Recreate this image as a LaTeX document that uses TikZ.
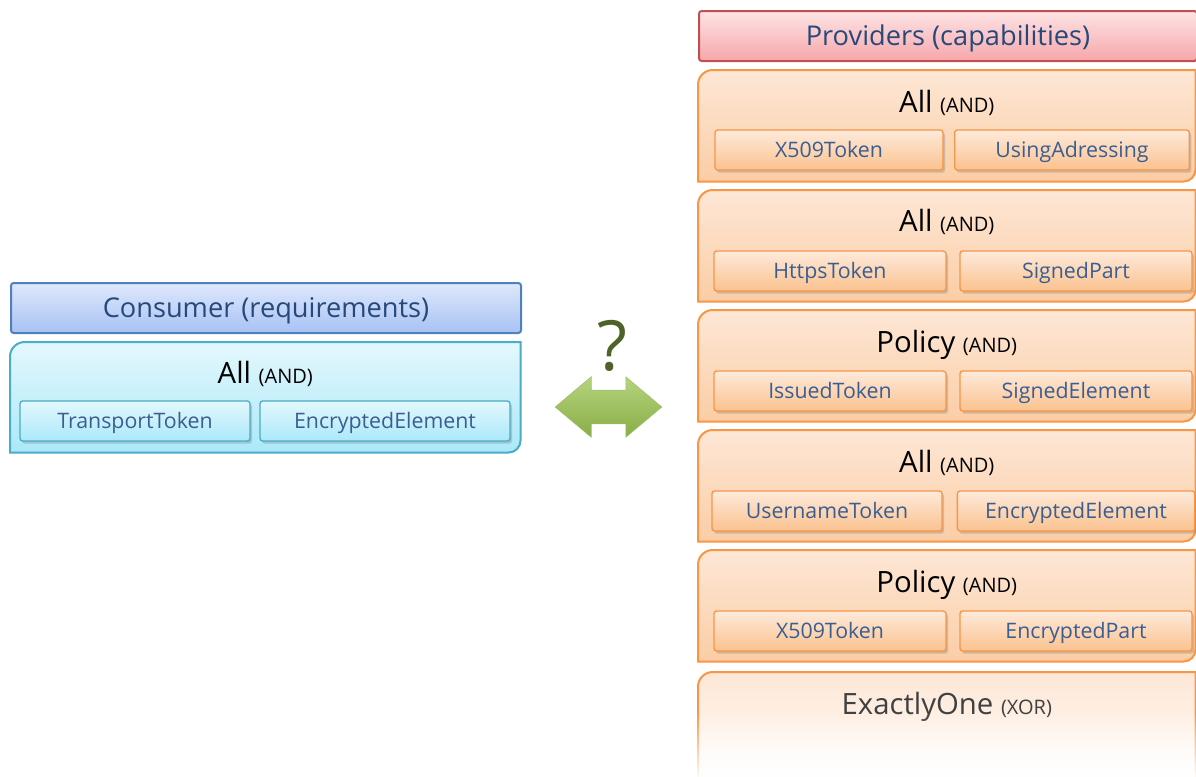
\documentclass[tikz,border=0pt]{standalone}
\usepackage{fontspec}
\setmainfont{Open Sans}
\usetikzlibrary{shadows,shapes.arrows,fadings}
\pgfdeclarelayer{background}
\pgfsetlayers{background,main}

\definecolor{headText}{HTML}{27497A}
\definecolor{partText}{HTML}{3B5E91}
\definecolor{consumerLine}{HTML}{4F81BD}
\definecolor{consumerTop}{HTML}{DFE8FC}
\definecolor{consumerBottom}{HTML}{A7C2F4}
\definecolor{aquaLine}{HTML}{4BACC6}
\definecolor{aquaTop}{HTML}{E4F8FD}
\definecolor{aquaBottom}{HTML}{ABE8F9}
\definecolor{providerLine}{HTML}{C0504D}
\definecolor{providerTop}{HTML}{FDE4E5}
\definecolor{providerBottom}{HTML}{F6A6AA}
\definecolor{orangeLine}{HTML}{F79646}
\definecolor{orangeTop}{HTML}{FDE7D6}
\definecolor{orangeBottom}{HTML}{FBCDA5}
\definecolor{partTop}{HTML}{FDEADB}
\definecolor{partBottom}{HTML}{FBC28F}
\definecolor{arrowTop}{HTML}{B7D47F}
\definecolor{arrowBottom}{HTML}{88AD45}
\definecolor{askColor}{HTML}{4F6228}

\newcommand{\opTag}[1]{{\fontsize{15}{17}\selectfont (#1)}}
\newcommand{\roundframe}[2]{%
  \path[#2] ([yshift=-11pt]#1.north west) arc[start angle=180, end angle=90, radius=11pt]
    -- (#1.north east) -- ([yshift=9pt]#1.south east) arc[start angle=0, end angle=-90, radius=9pt]
    -- (#1.south west) -- cycle;}

\tikzstyle{headPart} = [line width=1.5pt, rounded corners=2pt, minimum height=37.5pt, text height=14.6pt, text depth=0pt, text=headText, font=\fontsize{20.4}{24}\selectfont, anchor=north west]
\tikzstyle{frameArea} = [minimum width=372.75pt, minimum height=83.25pt, anchor=north west, inner sep=0pt]
\tikzstyle{groupTitle} = [font=\fontsize{22}{26}\selectfont, inner sep=0pt, text height=15.7pt, text depth=0pt]
\tikzstyle{subPart} = [line width=1pt, rounded corners=2pt, minimum height=30pt, text height=11.4pt, text depth=0pt, text=partText, font=\fontsize{16}{18}\selectfont, drop shadow={shadow xshift=1.5pt, shadow yshift=-2pt, opacity=0.35}]
\tikzstyle{aquaPart} = [subPart, draw=aquaLine, top color=aquaTop, bottom color=aquaBottom]
\tikzstyle{orangePart} = [subPart, draw=orangeLine, top color=partTop, bottom color=partBottom]
\tikzstyle{aquaFrame} = [draw=aquaLine, line width=1.5pt, top color=aquaTop, bottom color=aquaBottom]
\tikzstyle{orangeFrame} = [draw=orangeLine, line width=1.5pt, top color=orangeTop, bottom color=orangeBottom]

\begin{document}
\begin{tikzpicture}[x=0.75pt, y=0.75pt]
		\useasboundingbox (0,0) rectangle (1196,-776);

		% Consumer side
		\node (consumerHead) [headPart, draw=consumerLine, top color=consumerTop, bottom color=consumerBottom, minimum width=382.5pt] at (10,-282) {Consumer (requirements)};
		\node (consumerAll) [frameArea, minimum width=382.5pt, minimum height=82.5pt] at (10,-342) {};
		\path (consumerAll.north)+(0,-31) node (consumerTitle) [groupTitle] {All \opTag{AND}};
		\path (consumerAll.north west)+(125,-79) node (transportToken) [aquaPart, minimum width=172.5pt] {TransportToken};
		\path (consumerAll.north west)+(375,-79) node (encElementA) [aquaPart, minimum width=187.5pt] {EncryptedElement};
		\begin{pgfonlayer}{background}
			\roundframe{consumerAll}{aquaFrame}
		\end{pgfonlayer}

		% Matching arrow
		\node (matchArrow) [double arrow, double arrow head extend=10pt, double arrow tip angle=80, minimum height=80pt, inner xsep=0pt, inner ysep=12.5pt, top color=arrowTop, bottom color=arrowBottom, draw=arrowBottom!80, line width=0.4pt] at (608.5,-407) {};
		\path (matchArrow.center)+(3.5,61) node (askMark) [text=askColor, font=\fontsize{52}{56}\selectfont, inner sep=0pt] {?};

		% Provider side
		\node (providerHead) [headPart, draw=providerLine, top color=providerTop, bottom color=providerBottom, minimum width=373.5pt] at (698,-10) {Providers (capabilities)};

		\node (groupA) [frameArea] at (698,-70) {};
		\path (groupA.north)+(0,-32) node (titleA) [groupTitle] {All \opTag{AND}};
		\path (groupA.north west)+(131,-80) node (x509A) [orangePart, minimum width=171pt] {X509Token};
		\path (groupA.north west)+(374,-80) node (addressing) [orangePart, minimum width=176pt] {UsingAdressing};

		\node (groupB) [frameArea] at (698,-190) {};
		\path (groupB.north)+(0,-31) node (titleB) [groupTitle] {All \opTag{AND}};
		\path (groupB.north west)+(132,-81) node (httpsToken) [orangePart, minimum width=174pt] {HttpsToken};
		\path (groupB.north west)+(378,-81) node (signedPart) [orangePart, minimum width=174pt] {SignedPart};

		\node (groupC) [frameArea] at (698,-310) {};
		\path (groupC.north)+(0,-32) node (titleC) [groupTitle] {Policy \opTag{AND}};
		\path (groupC.north west)+(132,-81) node (issuedToken) [orangePart, minimum width=174pt] {IssuedToken};
		\path (groupC.north west)+(378,-81) node (signedElement) [orangePart, minimum width=174pt] {SignedElement};

		\node (groupD) [frameArea] at (698,-430) {};
		\path (groupD.north)+(0,-32) node (titleD) [groupTitle] {All \opTag{AND}};
		\path (groupD.north west)+(129,-81) node (usernameToken) [orangePart, minimum width=172.5pt] {UsernameToken};
		\path (groupD.north west)+(378,-81) node (encElementB) [orangePart, minimum width=178pt] {EncryptedElement};

		\node (groupE) [frameArea] at (698,-550) {};
		\path (groupE.north)+(0,-32) node (titleE) [groupTitle] {Policy \opTag{AND}};
		\path (groupE.north west)+(132,-81) node (x509B) [orangePart, minimum width=174pt] {X509Token};
		\path (groupE.north west)+(378,-81) node (encPart) [orangePart, minimum width=174pt] {EncryptedPart};

		\node (groupF) [frameArea, minimum height=97.5pt] at (698,-672) {};
		\path (groupF.north)+(0,-32) node (titleF) [groupTitle, text=black!75] {ExactlyOne \opTag{XOR}};

		\begin{pgfonlayer}{background}
			\roundframe{groupA}{orangeFrame}
			\roundframe{groupB}{orangeFrame}
			\roundframe{groupC}{orangeFrame}
			\roundframe{groupD}{orangeFrame}
			\roundframe{groupE}{orangeFrame}
			\roundframe{groupF}{orangeFrame, bottom color=white}
		\end{pgfonlayer}
		% wash out the foot of the last group
		\fill[white, path fading=north] (690,-712) rectangle (1200,-780);

	\end{tikzpicture}
\end{document}
